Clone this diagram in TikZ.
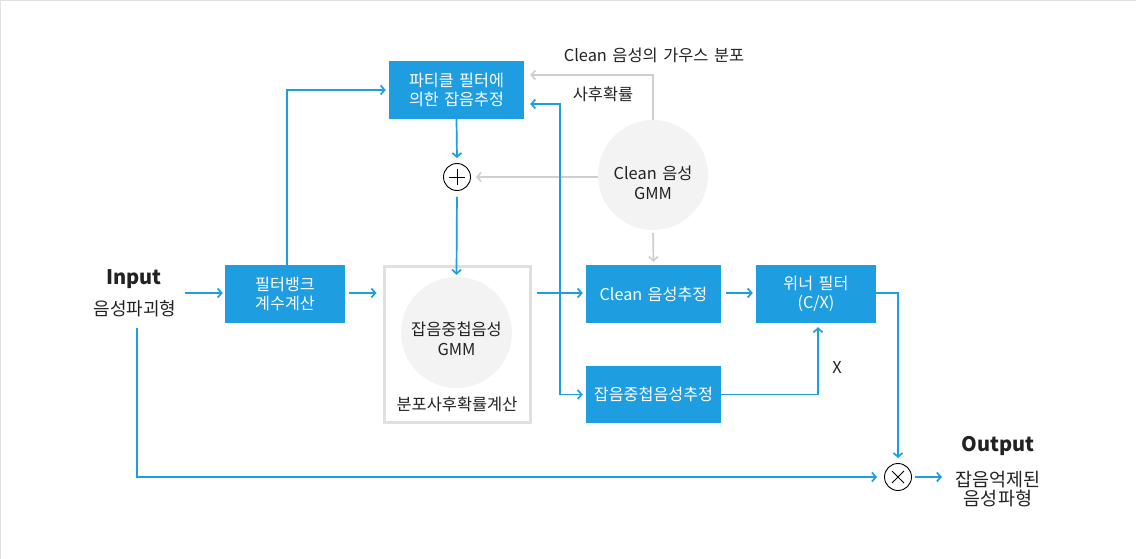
\documentclass[tikz,border=0pt]{standalone}
\usepackage{fontspec}
\setmainfont{Noto Sans CJK KR}[WordSpace=1.5]
\usetikzlibrary{arrows.meta}
\definecolor{blu}{HTML}{1E9DE1}
\definecolor{lgl}{HTML}{CFCFCF}
\definecolor{boxl}{HTML}{E0E0E0}
\definecolor{cfill}{HTML}{F3F3F3}
\definecolor{txt}{HTML}{222222}
\begin{document}
\begin{tikzpicture}[x=1pt,y=-1pt,
  bbox/.style={fill=blu,text=white,minimum height=58pt,inner sep=0pt,align=center,font=\fontsize{16.2}{19}\selectfont},
  lbl/.style={text=txt,inner sep=0pt,align=center,font=\fontsize{16.4}{19.5}\selectfont},
  flow/.style={draw=blu,line width=1.7pt,-{Straight Barb[length=4pt,width=9pt]}},
  gflow/.style={draw=lgl,line width=1.7pt,-{Straight Barb[length=4pt,width=9pt]}},
  gmm/.style={circle,fill=cfill,inner sep=0pt},
  opc/.style={circle,draw=black,line width=0.9pt,minimum size=27pt,inner sep=0pt},
  sym/.style={line width=0.9pt}]
\useasboundingbox (0,0) rectangle (1136,559);
\draw[boxl,line width=2pt] (0,559) -- (0,0) -- (1136,0);

% labels
\node[lbl,font=\bfseries\fontsize{20}{24}\selectfont] (inp) at (134,279) {Input};
\node[lbl,font=\fontsize{18}{20}\selectfont] (inp2) at (135,309) {음성파괴형};
\node[lbl,font=\bfseries\fontsize{20}{24}\selectfont] (outp) at (998,446) {Output};
\node[lbl,font=\fontsize{18.5}{19.5}\selectfont] (outp2) at (998,489) {잡음억제된\\음성파형};

% boxes
\node[bbox,minimum width=120pt] (fb) at (285,294) {필터뱅크\\계수계산};
\node[bbox,minimum width=135pt] (pf) at (456.5,90) {파티클 필터에\\의한 잡음추정};
\node[bbox,minimum width=135pt] (ce) at (653.5,294) {Clean 음성추정};
\node[bbox,minimum width=135pt,minimum height=57pt] (ne) at (653.5,394.5) {잡음중첩음성추정};
\node[bbox,minimum width=120pt] (wf) at (816,294) {위너 필터\\(C/X)};

% gray box with GMM
\node[draw=boxl,line width=3pt,minimum width=146pt,minimum height=156pt,inner sep=0pt] (gb) at (457,344.5) {};
\node[gmm,minimum size=111pt] (ng) at (456.5,332.5) {};
\node[lbl] (ngt) at (456.5,339) {잡음중첩음성\\GMM};
\node[lbl] (ngl) at (457,404) {분포사후확률계산};

% clean GMM
\node[gmm,minimum size=110pt] (cg) at (653,175) {};
\node[lbl] (cgt) at (653,183) {Clean 음성\\GMM};
\node[lbl] (cgd) at (654,55) {Clean 음성의 가우스 분포};
\node[lbl] (pp) at (603,94) {사후확률};
\node[lbl] (xl) at (837,367) {X};

% operators
\node[opc] (op) at (457,177) {};
\draw[sym] ([xshift=-8pt]op.center) -- ([xshift=8pt]op.center);
\draw[sym] ([yshift=-8pt]op.center) -- ([yshift=8pt]op.center);
\node[opc] (ot) at (898,477) {};
\draw[sym] ([shift={(-6pt,-6pt)}]ot.center) -- ([shift={(6pt,6pt)}]ot.center);
\draw[sym] ([shift={(-6pt,6pt)}]ot.center) -- ([shift={(6pt,-6pt)}]ot.center);

% free ends
\coordinate (inA) at (185,293);
\coordinate (inB) at (137,328);
\coordinate (br) at (560,293);
\coordinate (outA) at (942,477);

% connectors
\draw[flow] (inA) -- ([xshift=-2pt]fb.west |- inA);
\draw[flow] ([xshift=4pt]fb.east |- inA) -- ([xshift=-6pt]gb.west |- inA);
\draw[flow] ([xshift=2pt]fb.north) |- ([xshift=-3pt]pf.west);
\draw[flow] (pf.south) -- ([yshift=5pt]op.north);
\draw[flow,shorten <=6pt] (op.south) -- ([yshift=2pt]ng.north);
\draw[gflow] (cg.west |- op.east) -- ([xshift=5pt]op.east);
\draw[gflow] (cg.north) |- ([xshift=6pt,yshift=15pt]pf.east);
\draw[flow] (br) |- ([xshift=6pt,yshift=-14pt]pf.east);
\draw[flow] (br) |- ([xshift=-3pt]ne.west);
\draw[flow] ([xshift=5pt]gb.east |- inA) -- ([xshift=-3pt]ce.west |- inA);
\draw[gflow,shorten <=3pt] (cg.south) -- ([yshift=3pt]ce.north);
\draw[flow] ([xshift=5pt]ce.east |- inA) -- ([xshift=-3pt]wf.west |- inA);
\draw[flow] (ne.east) -| ([xshift=2pt,yshift=-4pt]wf.south);
\draw[flow] (wf.east |- inA) -| ([yshift=5pt]ot.north);
\draw[flow] (inB) |- ([xshift=-7pt]ot.west);
\draw[flow] ([xshift=3pt]ot.east) -- (outA);
\end{tikzpicture}
\end{document}
